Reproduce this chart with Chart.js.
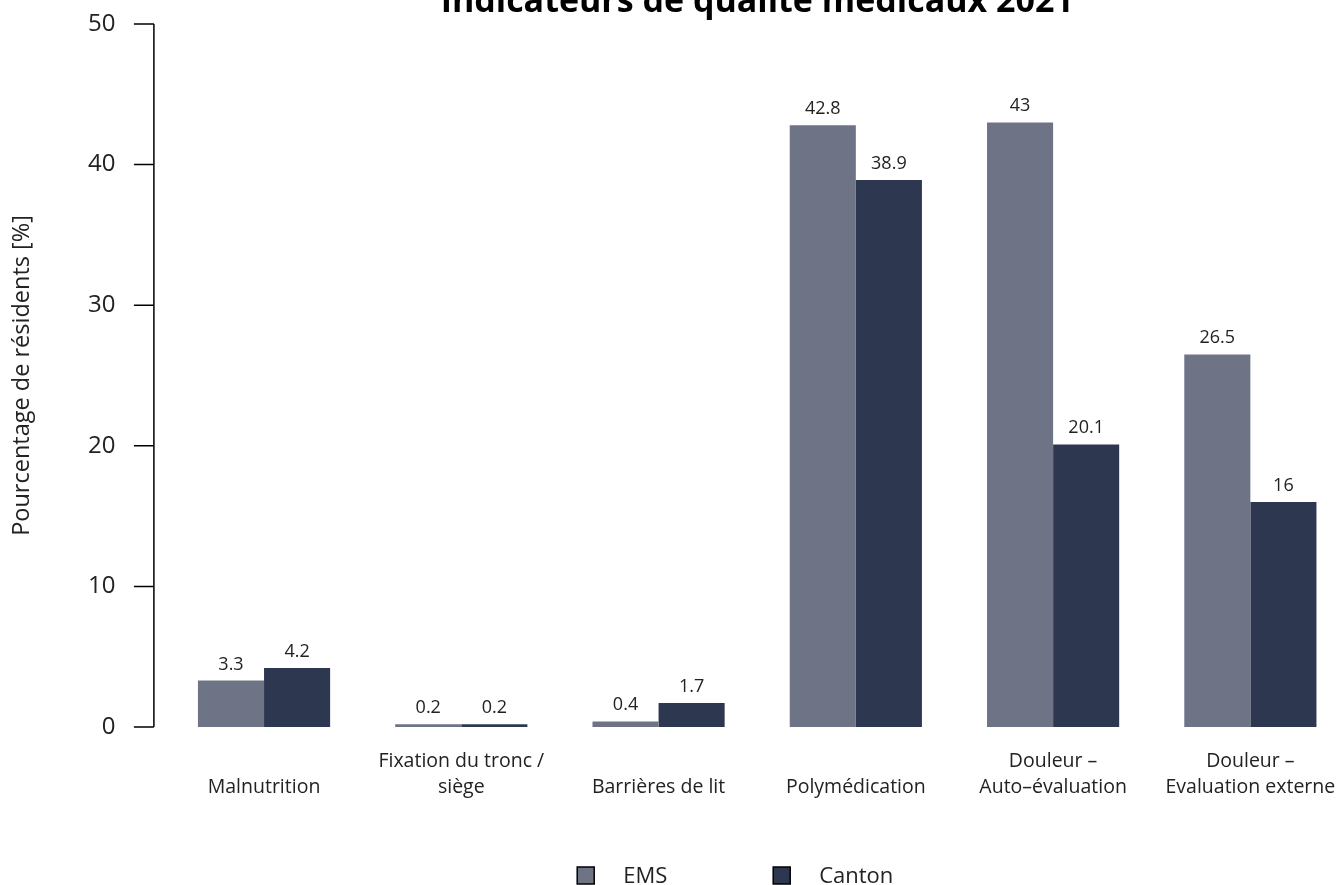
<!DOCTYPE html>
<html lang="fr">
<head>
<meta charset="utf-8">
<title>Indicateurs de qualité médicaux 2021</title>
<script src="https://cdn.jsdelivr.net/npm/chart.js@4.4.1/dist/chart.umd.min.js"></script>
<style>
    html, body { margin: 0; padding: 0; background: #fff; overflow: hidden; }
    #wrap { width: 1349px; height: 885px; }
</style>
</head>
<body>
<div id="wrap"><canvas id="chart" width="1349" height="885"></canvas></div>
<script>
// chart data
const categories = [
    ['', 'Malnutrition'],
    ['Fixation du tronc /', 'siège'],
    ['', 'Barrières de lit'],
    ['', 'Polymédication'],
    ['Douleur –', 'Auto–évaluation'],
    ['Douleur –', 'Evaluation externe']
];
const emsValues = [3.3, 0.2, 0.4, 42.8, 43, 26.5];
const cantonValues = [4.2, 0.2, 1.7, 38.9, 20.1, 16];
const yTicks = [0, 10, 20, 30, 40, 50];
const seriesNames = ['EMS', 'Canton'];
const seriesColors = ['#6e7386', '#2d374f'];

const FONT = "'Open Sans', 'Noto Sans', sans-serif";
const TITLE = 'Indicateurs de qualité médicaux 2021';

// title, shifted axis line, value labels and legend
const decorPlugin = {
    id: 'decor',
    afterDraw(chart) {
        const ctx = chart.ctx;
        const area = chart.chartArea;
        const y = chart.scales.y;
        const cx = (area.left + area.right) / 2;

        ctx.save();

        // title (partly off the top, as in the original)
        ctx.fillStyle = '#000';
        ctx.font = `bold 34px ${FONT}`;
        ctx.textAlign = 'center';
        ctx.textBaseline = 'alphabetic';
        ctx.fillText(TITLE, cx, 12);

        // y axis line with ticks, set a bit left of the plot
        const axisX = area.left - 11.5;
        const y0 = y.getPixelForValue(yTicks[0]);
        const y1 = y.getPixelForValue(yTicks[yTicks.length - 1]);
        ctx.strokeStyle = '#000';
        ctx.lineWidth = 1.5;
        ctx.beginPath();
        ctx.moveTo(axisX, y0);
        ctx.lineTo(axisX, y1);
        yTicks.forEach(t => {
            const ty = y.getPixelForValue(t);
            ctx.moveTo(axisX, ty);
            ctx.lineTo(axisX - 20, ty);
        });
        ctx.stroke();

        // value labels above bars
        ctx.font = `18px ${FONT}`;
        ctx.fillStyle = '#222';
        chart.data.datasets.forEach((ds, i) => {
            chart.getDatasetMeta(i).data.forEach((bar, j) => {
                ctx.fillText(String(ds.data[j]), bar.x, bar.y - 11);
            });
        });

        // legend
        ctx.font = `22px ${FONT}`;
        ctx.textAlign = 'left';
        const legendX = [cx - 180, cx + 16];
        seriesNames.forEach((name, i) => {
            const bx = legendX[i];
            ctx.fillStyle = seriesColors[i];
            ctx.fillRect(bx, 867, 17, 17);
            ctx.strokeStyle = '#000';
            ctx.lineWidth = 1.5;
            ctx.strokeRect(bx, 867, 17, 17);
            ctx.fillStyle = '#222';
            ctx.fillText(name, bx + 46, 883);
        });

        ctx.restore();
    }
};

const ctx = document.getElementById('chart').getContext('2d');
new Chart(ctx, {
    type: 'bar',
    data: {
        labels: categories,
        datasets: [
            { label: seriesNames[0], data: emsValues, backgroundColor: seriesColors[0], borderWidth: 0 },
            { label: seriesNames[1], data: cantonValues, backgroundColor: seriesColors[1], borderWidth: 0 }
        ]
    },
    options: {
        responsive: false,
        animation: false,
        devicePixelRatio: 1,
        categoryPercentage: 0.67,
        barPercentage: 1,
        layout: { padding: { top: 24, right: 0, bottom: 0, left: 0 } },
        plugins: {
            legend: { display: false },
            tooltip: { enabled: false },
            title: { display: false }
        },
        scales: {
            x: {
                grid: { display: false, drawTicks: false },
                border: { display: false },
                ticks: {
                    color: '#222',
                    padding: 21,
                    maxRotation: 0,
                    autoSkip: false,
                    font: { family: FONT, size: 19.5, lineHeight: 1.35 }
                },
                afterFit(scale) {
                    scale.height = 158;
                    scale.paddingLeft = 0;
                    scale.paddingRight = 0;
                }
            },
            y: {
                min: 0,
                max: 50,
                afterBuildTicks(scale) { scale.ticks = yTicks.map(v => ({ value: v })); },
                grid: { display: false, drawTicks: false },
                border: { display: false },
                ticks: {
                    color: '#222',
                    padding: 50,
                    font: { family: FONT, size: 24 }
                },
                title: {
                    display: true,
                    text: 'Pourcentage de résidents [%]',
                    color: '#222',
                    font: { family: FONT, size: 23.5 },
                    padding: { top: 8, bottom: 0 }
                },
                afterFit(scale) {
                    scale.width = 165.4;
                    scale.paddingTop = 0;
                    scale.paddingBottom = 0;
                }
            }
        }
    },
    plugins: [decorPlugin]
});
</script>
</body>
</html>
